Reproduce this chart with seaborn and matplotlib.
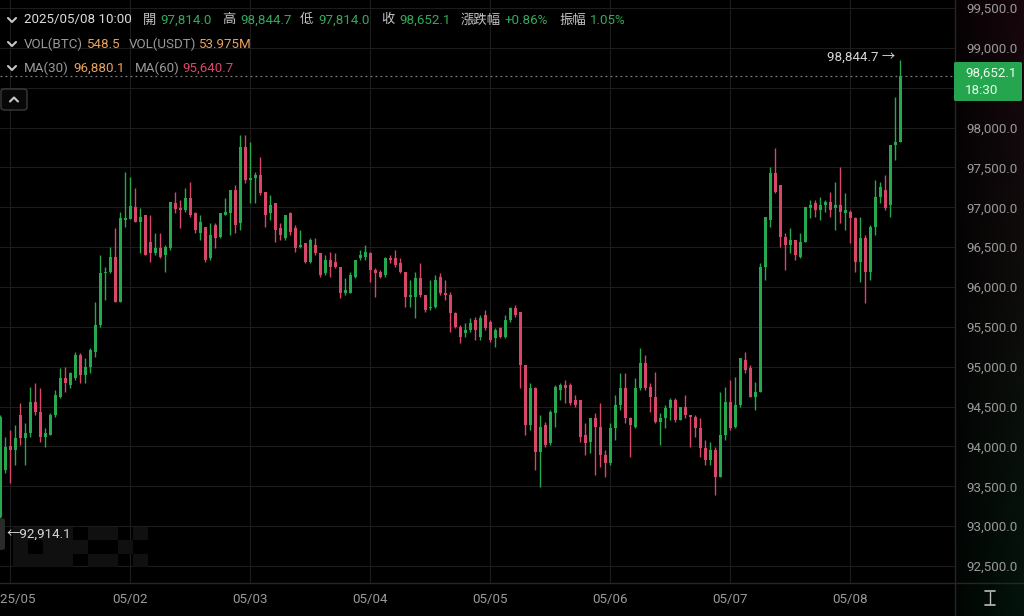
import numpy as np
import pandas as pd
import matplotlib
matplotlib.use("Agg")
import matplotlib.pyplot as plt
import seaborn as sns
from matplotlib.patches import FancyBboxPatch, Rectangle
from matplotlib.lines import Line2D

# ---------------- data (hourly candles, 2025-04-30 22:00 .. 2025-05-08 10:00) ----------------
opens = [93120, 93705, 94000, 93956, 94400, 94102, 94165, 94562, 94437, 94123,
         94144, 94395, 94625, 94855, 94771, 94855, 95147, 94897, 95001, 95189,
         95524, 96172, 96193, 96381, 95816, 96840, 96849, 97008, 96820, 96904,
         96569, 96423, 96485, 96402, 96485, 97050, 96987, 96966, 97112, 96924,
         96673, 96757, 96360, 96778, 96632, 96903, 96924, 97217, 96799, 97761,
         97342, 97363, 97405, 97196, 96924, 97050, 96736, 96611, 96924, 96736,
         96506, 96548, 96318, 96527, 96423, 96172, 96339, 96318, 96255, 95921,
         95921, 96130, 96360, 96381, 96430, 96213, 96193, 96151, 96360, 96360,
         96297, 96193, 95879, 95879, 96109, 95900, 95733, 95754, 96130, 95921,
         95900, 95670, 95503, 95419, 95461, 95587, 95377, 95649, 95566, 95357,
         95482, 95378, 95587, 95733, 95691, 95022, 94270, 94730, 93935, 94270,
         94040, 94416, 94709, 94771, 94771, 94583, 94583, 94144, 94061, 94353,
         94249, 93893, 93788, 94227, 94520, 94729, 94353, 94248, 94729, 95042,
         94750, 94624, 94311, 94353, 94478, 94583, 94332, 94499, 94394, 94373,
         94227, 93976, 93830, 93955, 93621, 94144, 94562, 94249, 94520, 95085,
         94980, 94625, 94688, 96256, 96841, 97426, 97280, 96632, 96528, 96590,
         96381, 96569, 96987, 97050, 96966, 97029, 97071, 96987, 97029, 96925,
         96945, 96861, 96318, 96611, 96193, 96758, 97133, 97217, 97029, 97781,
         97814.0]
highs = [94400, 94123, 94210, 94270, 94540, 94290, 94750, 94792, 94730, 94228,
         94416, 94708, 94980, 95001, 94938, 95189, 95168, 95105, 95231, 95817,
         96402, 96255, 96506, 96736, 96945, 97447, 97384, 97238, 96987, 96904,
         96904, 96673, 96673, 96527, 97071, 97196, 97092, 97238, 97322, 96945,
         96903, 96757, 96799, 96799, 96932, 97112, 97217, 97280, 97907, 97907,
         97823, 97447, 97635, 97196, 97154, 97050, 96799, 96903, 96945, 96778,
         96715, 96548, 96611, 96611, 96423, 96402, 96444, 96423, 96255, 96109,
         96193, 96339, 96465, 96527, 96443, 96234, 96213, 96381, 96402, 96464,
         96360, 96193, 96088, 96193, 96297, 95900, 96088, 96151, 96172, 96088,
         95942, 95691, 95524, 95545, 95607, 95628, 95649, 95712, 95587, 95482,
         95503, 95649, 95754, 95775, 95691, 95022, 94792, 94750, 94395, 94311,
         94458, 94771, 94792, 94834, 94792, 94646, 94583, 94290, 94353, 94416,
         94541, 93956, 94290, 94645, 94917, 94917, 94374, 94854, 95230, 95147,
         94792, 94938, 94415, 94520, 94604, 94604, 94499, 94645, 94394, 94394,
         94353, 94081, 94060, 93997, 94687, 94750, 94834, 94876, 95105, 95189,
         95022, 94813, 96298, 96883, 97510, 97740, 97280, 96674, 96737, 96590,
         96674, 97008, 97092, 97092, 97134, 97092, 97196, 97322, 97510, 97175,
         96966, 96882, 96882, 96653, 96778, 97343, 97321, 97405, 97781, 98388,
         98844.7]
lows = [92914.1, 93663, 93540, 93767, 94020, 93767, 94123, 94395, 94060, 93997,
        94144, 94374, 94604, 94687, 94729, 94834, 94792, 94792, 94917, 95126,
        95503, 95837, 96172, 95816, 95816, 96757, 96849, 96820, 96423, 96402,
        96318, 96402, 96360, 96193, 96464, 96924, 96736, 96945, 96882, 96673,
        96590, 96318, 96339, 96485, 96611, 96903, 96653, 96673, 96715, 97300,
        97050, 97050, 97154, 96757, 96841, 96569, 96590, 96590, 96653, 96444,
        96485, 96297, 96297, 96402, 96130, 96151, 96130, 96235, 95858, 95900,
        95921, 96109, 96339, 96339, 96067, 95879, 96109, 96130, 96297, 96255,
        96172, 95753, 95753, 95607, 95879, 95691, 95712, 95733, 95900, 95837,
        95440, 95482, 95294, 95377, 95440, 95336, 95336, 95461, 95315, 95252,
        95357, 95357, 95566, 95628, 94730, 94144, 94207, 93705, 93496, 93998,
        94019, 94249, 94583, 94541, 94520, 94499, 94061, 93893, 93914, 93642,
        93747, 93621, 93767, 94081, 94457, 94290, 93872, 94227, 94708, 94708,
        94436, 94290, 94018, 94227, 94332, 94311, 94332, 94353, 93997, 94122,
        93872, 93767, 93767, 93391, 93621, 94081, 94207, 94228, 94499, 94918,
        94625, 94458, 94688, 96088, 96757, 97175, 96507, 96214, 96423, 96339,
        96360, 96569, 96862, 96883, 96841, 96945, 96883, 96716, 96800, 96716,
        96548, 96193, 96067, 95796, 96088, 96653, 97050, 96966, 96883, 97594,
        97814.0]
closes = [94374, 93997, 93950, 94102, 94100, 94165, 94562, 94437, 94123, 94165,
          94395, 94646, 94855, 94792, 94917, 95147, 94897, 95001, 95210, 95524,
          96172, 96193, 96381, 95816, 96862, 96862, 97016, 96820, 96883, 96402,
          96423, 96485, 96381, 96506, 97071, 96975, 96966, 97112, 96903, 96715,
          96820, 96339, 96653, 96611, 96924, 96945, 97217, 96778, 97761, 97342,
          97363, 97405, 97175, 96903, 97029, 96715, 96653, 96903, 96694, 96485,
          96527, 96318, 96590, 96423, 96151, 96339, 96255, 96255, 95921, 95963,
          96151, 96339, 96402, 96443, 96213, 96172, 96130, 96360, 96339, 96276,
          96193, 95879, 95900, 96109, 95900, 95712, 95754, 96088, 95921, 95900,
          95670, 95503, 95377, 95461, 95545, 95461, 95608, 95482, 95336, 95461,
          95378, 95587, 95733, 95650, 95022, 94270, 94730, 93935, 94249, 94019,
          94437, 94751, 94771, 94730, 94541, 94520, 94123, 94040, 94353, 94249,
          93893, 93788, 94227, 94520, 94729, 94353, 94269, 94729, 95042, 94729,
          94624, 94311, 94353, 94478, 94583, 94332, 94499, 94394, 94373, 94227,
          93976, 93830, 93955, 93621, 94143, 94562, 94228, 94520, 95105, 94960,
          94625, 94688, 96256, 96883, 97426, 97196, 96632, 96528, 96590, 96402,
          96569, 97008, 97029, 96966, 97029, 97071, 96966, 97029, 96945, 96966,
          96862, 96318, 96611, 96193, 96758, 97133, 97259, 96987, 97781, 97814,
          98652.1]

day_labels = ["2025/05", "05/02", "05/03", "05/04", "05/05", "05/06", "05/07", "05/08"]
price_ticks = list(range(92500, 100000, 500))

times = pd.date_range("2025-04-30 22:00", periods=len(opens), freq="h")
df = pd.DataFrame({"t": times, "o": opens, "h": highs, "l": lows, "c": closes})
df["x"] = (df["t"] - pd.Timestamp("2025-05-01 00:00")) / pd.Timedelta(hours=1)
day_pos = [(pd.Timestamp(f"2025-05-0{d}") - pd.Timestamp("2025-05-01")) / pd.Timedelta(hours=1)
           for d in range(1, 9)]

# ---------------- style ----------------
GREEN = "#26a84f"
RED = "#d8466a"
BG = "#000000"
GRID = "#1c1c1c"
TXT = "#9a9a9a"

sns.set_theme(style="dark", rc={"axes.facecolor": BG, "figure.facecolor": BG,
                                "savefig.facecolor": BG, "grid.color": GRID,
                                "axes.edgecolor": BG})
plt.rcParams["font.family"] = ["Roboto", "Noto Sans CJK TC", "DejaVu Sans"]

W, H = 1024, 616
fig = plt.figure(figsize=(W / 100, H / 100), dpi=100)

def px(x, y):
    return x / W, 1 - y / H

# right panel gradient
gax = fig.add_axes([955 / W, 0, (W - 955) / W, 1], zorder=0)
top = np.array([24, 6, 12]) / 255.0
bot = np.array([3, 20, 11]) / 255.0
v = np.linspace(0, 1, 200)[:, None, None]
hgrad = np.linspace(0.25, 1.0, 60)[None, :, None]
img = (top * (1 - v) + bot * v) * hgrad
gax.imshow(img, aspect="auto", extent=[0, 1, 0, 1])
gax.set_axis_off()

ax = fig.add_axes([0, (H - 583) / H, 955 / W, 583 / H], zorder=1)
ax.set_facecolor(BG)

up = df["c"] >= df["o"]
cols = np.where(up, GREEN, RED)
ax.vlines(df["x"], df["l"], df["h"], colors=cols, linewidth=1.0, zorder=3)
body_lo = np.minimum(df["o"], df["c"])
body_h = np.maximum(np.abs(df["c"] - df["o"]), 14)
ax.bar(df["x"], body_h, bottom=body_lo, width=0.62, color=cols, linewidth=0, zorder=4)

x0 = -2.05
ax.set_xlim(x0, x0 + 955 / 5)
ax.set_ylim(92287, 99600)

last = df["c"].iloc[-1]
ax.set_yticks(price_ticks)
# the 98,500 label sits under the live-price box in the reference, so it is not shown
ax.set_yticklabels([("" if abs(p - last) < 250 else f"{p:,.1f}") for p in price_ticks])
ax.yaxis.tick_right()
ax.set_xticks(day_pos)
ax.set_xticklabels(day_labels)
ax.tick_params(axis="y", length=0, pad=8.2, labelsize=9.6, labelcolor=TXT)
ax.tick_params(axis="x", length=0, pad=7.5, labelsize=9.6, labelcolor=TXT)
ax.grid(True, color=GRID, linewidth=0.8)
for s in ax.spines.values():
    s.set_visible(False)

# last price dotted line
ax.axhline(last, color="#7d7d7d", linestyle=(0, (1.5, 2.5)), linewidth=0.9, zorder=2)

# faint watermark squares (inside the price axes, under the candles and labels)
cw, ch = 15, 13.3
glyphs = {
    "O": [(0, 0), (1, 0), (2, 0), (0, 1), (2, 1), (0, 2), (1, 2), (2, 2)],
    "K": [(0, 0), (2, 0), (0, 1), (1, 1), (0, 2), (2, 2)],
    "X": [(0, 0), (2, 0), (1, 1), (0, 2), (2, 2)],
}
gx = 13
for letter in "OKX":
    for (cx, cy) in glyphs[letter]:
        ax.add_patch(Rectangle(px(gx + cx * cw, 527 + (cy + 1) * ch), cw / W, ch / H,
                               facecolor="#101010", edgecolor="none", transform=fig.transFigure,
                               zorder=1))
    gx += 3 * cw

# high / low annotations
hi_i = df["h"].idxmax()
lo_i = df["l"].idxmin()
ax.text(df["x"].iloc[hi_i] - 1.0, df["h"].iloc[hi_i] + 40, f"{df['h'].iloc[hi_i]:,.1f} →",
        ha="right", va="center", fontsize=9.6, color="#d6d6d6", zorder=6)
ax.text(df["x"].iloc[lo_i] + 1.3, df["l"].iloc[lo_i] - 20, f"←{df['l'].iloc[lo_i]:,.1f}",
        ha="left", va="center", fontsize=9.6, color="#d6d6d6", zorder=6)

# separators
fig.add_artist(Line2D([955 / W, 955 / W], [0, 1], color="#262626", lw=1.0, zorder=3))
fig.add_artist(Line2D([0, 1], [1 - 583 / H, 1 - 583 / H], color="#262626", lw=1.0, zorder=3))

# small dark box at the low label
fig.add_artist(FancyBboxPatch(px(-6, 550), 11 / W, 32 / H, boxstyle="round,pad=0,rounding_size=0.004",
                              facecolor="#2a2a2a", edgecolor="none", transform=fig.transFigure,
                              zorder=5))

# price box on the right
fig.add_artist(FancyBboxPatch(px(954, 101), 68 / W, 39 / H, boxstyle="round,pad=0,rounding_size=0.002",
                              facecolor="#25a64e", edgecolor="none", transform=fig.transFigure,
                              zorder=10))
fig.text(*px(965, 73), f"{last:,.1f}", color="#eafbee", fontsize=9.6, va="center", ha="left",
         zorder=11)
fig.text(*px(965, 90), "18:30", color="#eafbee", fontsize=9.6, va="center", ha="left", zorder=11)

# header
LBL = "#c4c4c4"
VG = "#33a95a"
OR = "#e9a25c"
PK = "#e0456c"

def chevron(xc, yc, upward=False, color="#c8c8c8"):
    d = -3 if upward else 3
    xs = [xc - 4, xc, xc + 4]
    ys = [yc - d / 1.5, yc + d / 1.5, yc - d / 1.5]
    fig.add_artist(Line2D([x / W for x in xs], [1 - y / H for y in ys], color=color, lw=1.5,
                          solid_capstyle="round", solid_joinstyle="round", zorder=11))

hdr = [
    (20, [(24, "2025/05/08 10:00", "#dcdcdc"), (143, "開", LBL), (160, "97,814.0", VG),
          (222, "高", LBL), (240, "98,844.7", VG), (300, "低", LBL), (318, "97,814.0", VG),
          (381, "收", LBL), (399, "98,652.1", VG), (461, "漲跌幅", LBL), (505, "+0.86%", VG),
          (559, "振幅", LBL), (590, "1.05%", VG)]),
    (44, [(24, "VOL(BTC)", TXT), (86, "548.5", OR), (129, "VOL(USDT)", TXT), (198, "53.975M", OR)]),
    (68, [(24, "MA(30)", TXT), (73, "96,880.1", OR), (135, "MA(60)", TXT), (182, "95,640.7", PK)]),
]
for y, parts in hdr:
    chevron(12, y)
    for x, s, c in parts:
        fig.text(*px(x, y), s, color=c, fontsize=9.6, ha="left", va="center", zorder=11)

# collapse button
fig.add_artist(FancyBboxPatch(px(1, 110), 26 / W, 21 / H, boxstyle="round,pad=0,rounding_size=0.004",
                              facecolor="#080808", edgecolor="#3a3a3a", lw=1.0, transform=fig.transFigure,
                              zorder=10))
chevron(14, 99.5, upward=True)

# bottom-right icon
ic = "#bdbdbd"
fig.add_artist(Line2D([990 / W, 990 / W], [1 - 592 / H, 1 - 604 / H], color=ic, lw=1.0, zorder=11))
fig.add_artist(Line2D([985 / W, 995 / W], [1 - 591 / H, 1 - 591 / H], color=ic, lw=1.2, zorder=11))
fig.add_artist(Line2D([985 / W, 995 / W], [1 - 605 / H, 1 - 605 / H], color=ic, lw=1.2, zorder=11))

fig.savefig("out.png", dpi=100, facecolor=BG)
